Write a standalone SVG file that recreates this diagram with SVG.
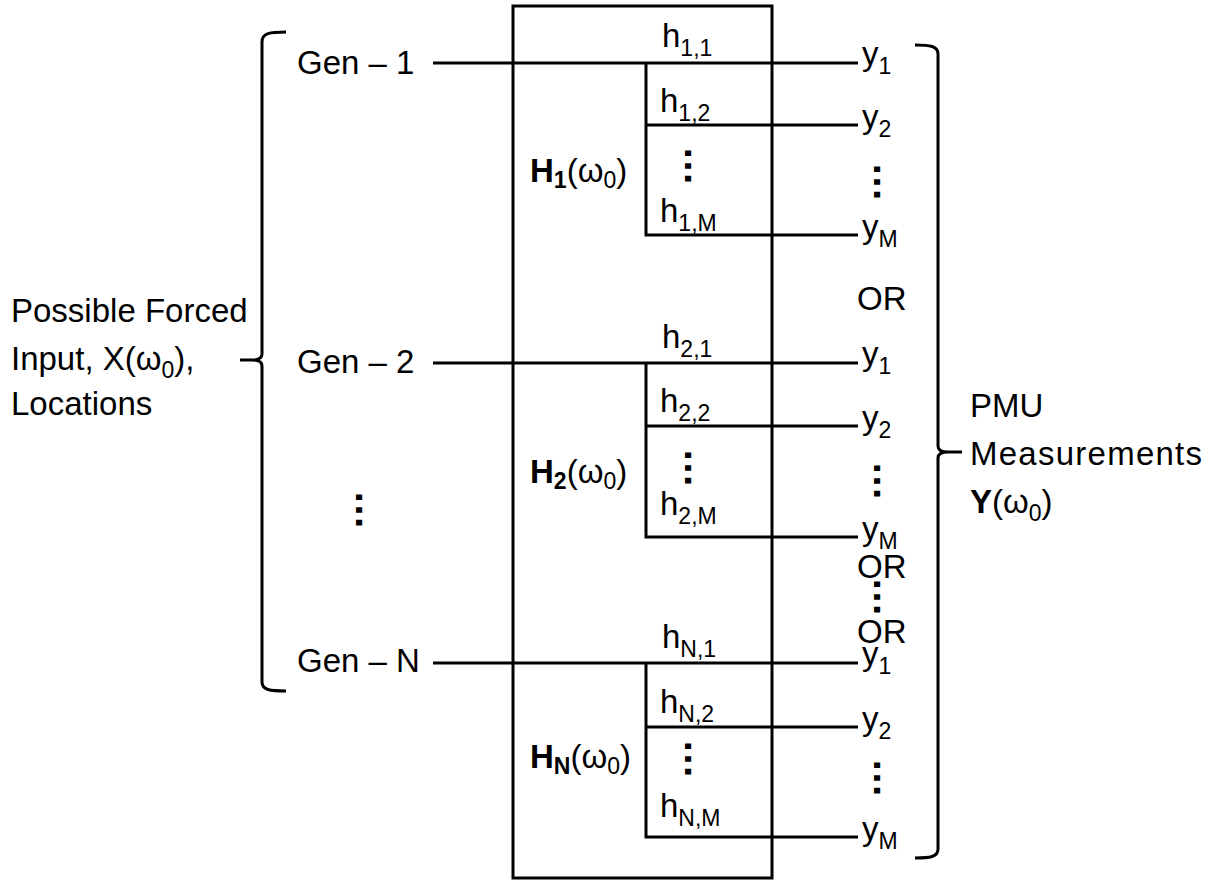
<svg xmlns="http://www.w3.org/2000/svg" width="1219" height="883" viewBox="0 0 1219 883">
<style>
text{font-family:"Liberation Sans",Arial,sans-serif;font-size:33px;fill:#000}
.sub{font-size:23px}
.b{font-weight:bold}
.vd{font-weight:bold;font-size:40px;text-anchor:middle}
.ln{fill:none;stroke:#000;stroke-width:3}
</style>
<rect width="1219" height="883" fill="#fff"/>
<g id="left-brace"><path class="ln" d="M286,32 C270,32 262,33 262,42 V354 Q262,360 252,360 H240 M252,360 Q262,360 262,366 V682 C262,690 270,691 286,691"/></g>
<g id="right-brace"><path class="ln" d="M915,45 C930,45 938,46 938,54 V446 Q938,452 948,452 H962 M948,452 Q938,452 938,458 V849 C938,857 930,858 915,858"/></g>
<g id="input-label">
<text x="11" y="322">Possible Forced</text>
<text x="11" y="370">Input, X(ω<tspan class="sub" dy="8">0</tspan><tspan dy="-8">),</tspan></text>
<text x="11" y="415">Locations</text>
</g>
<g id="output-label">
<text x="970" y="417">PMU</text>
<text x="970" y="465" textLength="232">Measurements</text>
<text x="970" y="513"><tspan class="b">Y</tspan>(ω<tspan class="sub" dy="8">0</tspan><tspan dy="-8">)</tspan></text>
</g>
<g id="gen-1"><text x="297" y="74">Gen – 1</text></g>
<g id="gen-2"><text x="297" y="373">Gen – 2</text></g>
<g id="gen-dots"><text class="vd" transform="translate(359,510) rotate(90)" y="2.6">…</text></g>
<g id="gen-n"><text x="297" y="672">Gen – N</text></g>
<g id="system-box"><rect class="ln" x="513" y="6" width="259" height="872"/></g>
<g id="h1">
<text class="b" x="530" y="182">H<tspan class="sub" dy="6">1</tspan><tspan dy="-6" font-weight="normal">(ω</tspan><tspan class="sub" dy="6" font-weight="normal">0</tspan><tspan dy="-6" font-weight="normal">)</tspan></text>
<text x="662" y="47">h<tspan class="sub" dy="9">1,1</tspan></text>
<text x="660" y="112">h<tspan class="sub" dy="9">1,2</tspan></text>
<text class="vd" transform="translate(688,166) rotate(90)" y="2.6">…</text>
<text x="660" y="222">h<tspan class="sub" dy="9">1,M</tspan></text>
</g>
<g id="h2">
<text class="b" x="530" y="483">H<tspan class="sub" dy="6">2</tspan><tspan dy="-6" font-weight="normal">(ω</tspan><tspan class="sub" dy="6" font-weight="normal">0</tspan><tspan dy="-6" font-weight="normal">)</tspan></text>
<text x="662" y="348">h<tspan class="sub" dy="9">2,1</tspan></text>
<text x="660" y="412">h<tspan class="sub" dy="9">2,2</tspan></text>
<text class="vd" transform="translate(688,468) rotate(90)" y="2.6">…</text>
<text x="660" y="515">h<tspan class="sub" dy="9">2,M</tspan></text>
</g>
<g id="hn">
<text class="b" x="530" y="768">H<tspan class="sub" dy="6">N</tspan><tspan dy="-6" font-weight="normal">(ω</tspan><tspan class="sub" dy="6" font-weight="normal">0</tspan><tspan dy="-6" font-weight="normal">)</tspan></text>
<text x="662" y="648">h<tspan class="sub" dy="9">N,1</tspan></text>
<text x="660" y="713">h<tspan class="sub" dy="9">N,2</tspan></text>
<text class="vd" transform="translate(688,759) rotate(90)" y="2.6">…</text>
<text x="660" y="817">h<tspan class="sub" dy="9">N,M</tspan></text>
</g>
<g id="outputs-1">
<text x="862" y="65">y<tspan class="sub" dy="9">1</tspan></text>
<text x="862" y="128">y<tspan class="sub" dy="9">2</tspan></text>
<text class="vd" transform="translate(877,182) rotate(90)" y="2.6">…</text>
<text x="862" y="238">y<tspan class="sub" dy="9">M</tspan></text>
</g>
<g id="or-1"><text x="857" y="310">OR</text></g>
<g id="outputs-2">
<text x="862" y="365">y<tspan class="sub" dy="9">1</tspan></text>
<text x="862" y="429">y<tspan class="sub" dy="9">2</tspan></text>
<text class="vd" transform="translate(877,481) rotate(90)" y="2.6">…</text>
<text x="862" y="540">y<tspan class="sub" dy="9">M</tspan></text>
</g>
<g id="or-2"><text x="857" y="578">OR</text></g>
<g id="or-dots"><text class="vd" transform="translate(877,597) rotate(90)" y="2.6">…</text></g>
<g id="or-3"><text x="857" y="643">OR</text></g>
<g id="outputs-n">
<text x="862" y="665">y<tspan class="sub" dy="9">1</tspan></text>
<text x="862" y="730">y<tspan class="sub" dy="9">2</tspan></text>
<text class="vd" transform="translate(877,778) rotate(90)" y="2.6">…</text>
<text x="862" y="840">y<tspan class="sub" dy="9">M</tspan></text>
</g>
<g id="connectors" class="ln">
<path d="M433,63 H858 M646,63 V235 H858 M646,125 H858"/>
<path d="M433,363 H858 M646,363 V537 H858 M646,426 H858"/>
<path d="M433,663 H858 M646,663 V837 H858 M646,727 H858"/>
</g>
</svg>
